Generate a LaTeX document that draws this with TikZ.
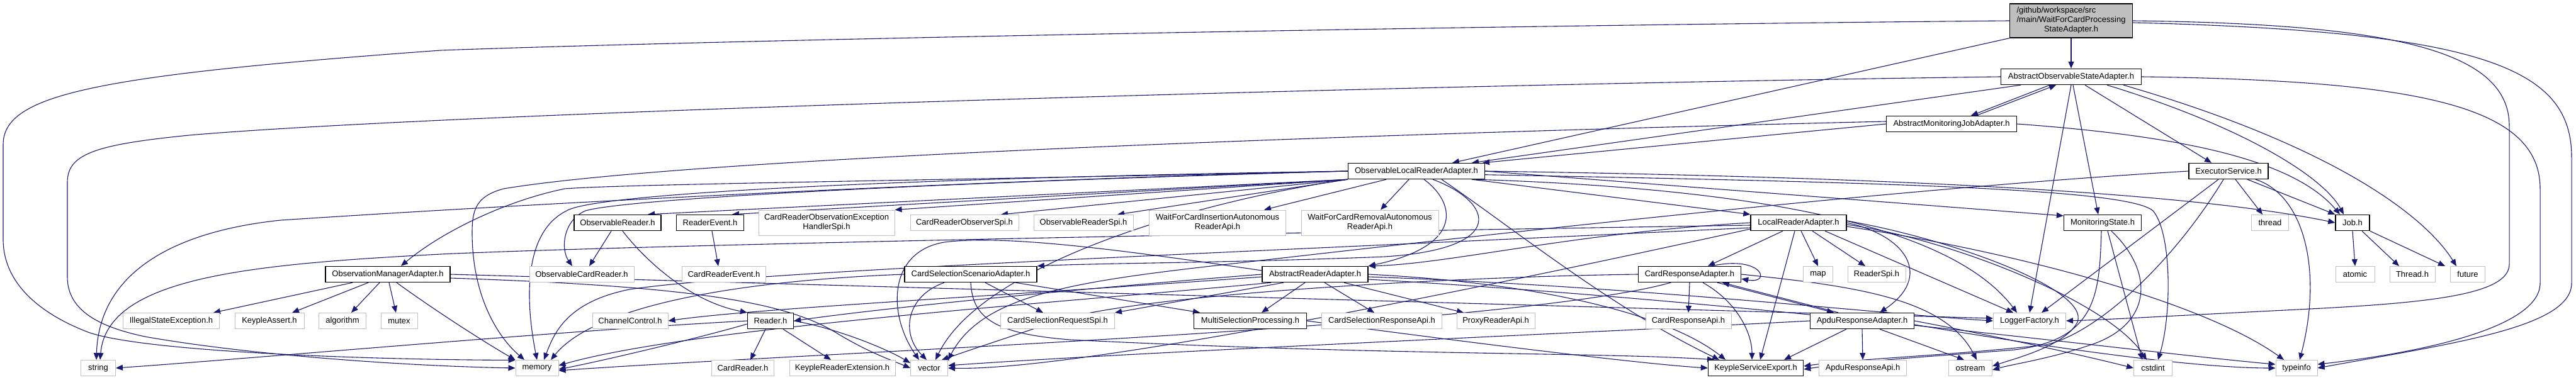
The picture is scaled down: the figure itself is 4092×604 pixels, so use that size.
\documentclass[tikz,border=0pt]{standalone}
\usepackage{fontspec}
\setmainfont{Liberation Sans}
\usetikzlibrary{arrows.meta}
\definecolor{edgec}{HTML}{191970}
\definecolor{gbord}{HTML}{BFBFBF}
\definecolor{tfill}{HTML}{BFBFBF}
\newcommand{\nf}{\fontsize{13}{15}\selectfont}
\pgfdeclarelayer{bg}
\pgfsetlayers{bg,main}
\tikzset{
  gx/.style={draw=gbord, line width=1pt, fill=white, minimum height=25pt, inner xsep=2pt, inner ysep=1pt, font=\nf},
  bx/.style={gx, draw=black, line width=1.4pt},
  tw/.style={minimum height=40pt, align=center},
  e/.style={draw=edgec, line width=1.1pt, -{Triangle[length=11pt,width=9pt]}},
}
\begin{document}
\begin{tikzpicture}[x=1pt,y=-1pt]
\useasboundingbox (0,0) rectangle (4092,604);
% ---------- nodes ----------
\node[bx, fill=tfill, minimum width=195pt, minimum height=54pt] (t) at (3290,33)
  {\begin{tabular}{@{}l@{}}/github/workspace/src\\/main/WaitForCardProcessing\\\multicolumn{1}{@{}c@{}}{StateAdapter.h}\end{tabular}};
\node[bx, minimum width=223pt] (aosa) at (3290,122) {AbstractObservableStateAdapter.h};
\node[bx, minimum width=207pt] (amja) at (3100,197) {AbstractMonitoringJobAdapter.h};
\node[bx, minimum width=217pt] (olra) at (2250,272) {ObservableLocalReaderAdapter.h};
\node[bx, minimum width=126pt] (es) at (3540,272) {ExecutorService.h};
% row 4
\node[bx, minimum width=138pt] (obsr) at (981,354) {ObservableReader.h};
\node[bx, minimum width=107pt] (revt) at (1128,354) {ReaderEvent.h};
\node[gx, tw, minimum width=216pt] (croe) at (1313,354) {CardReaderObservationException\\HandlerSpi.h};
\node[gx, minimum width=172pt] (cros) at (1532,354) {CardReaderObserverSpi.h};
\node[gx, minimum width=158pt] (orspi) at (1721,354) {ObservableReaderSpi.h};
\node[gx, tw, minimum width=217pt] (wfci) at (1934,354) {WaitForCardInsertionAutonomous\\ReaderApi.h};
\node[gx, tw, minimum width=218pt] (wfcr) at (2176,354) {WaitForCardRemovalAutonomous\\ReaderApi.h};
\node[bx, minimum width=152pt] (lra) at (2857,354) {LocalReaderAdapter.h};
\node[bx, minimum width=123pt] (ms) at (3340,354) {MonitoringState.h};
\node[gx, minimum width=59pt] (thread) at (3606,354) {thread};
\node[bx, minimum width=54pt] (job) at (3737,354) {Job.h};
% row 5
\node[bx, minimum width=198pt] (oma) at (616,436) {ObservationManagerAdapter.h};
\node[gx, minimum width=166pt] (ocr) at (924,436) {ObservableCardReader.h};
\node[gx, minimum width=133pt] (cre) at (1150,436) {CardReaderEvent.h};
\node[bx, minimum width=210pt] (cssa) at (1542,436) {CardSelectionScenarioAdapter.h};
\node[bx, minimum width=168pt] (ara) at (2089,436) {AbstractReaderAdapter.h};
\node[bx, minimum width=163pt] (cra) at (2684,436) {CardResponseAdapter.h};
\node[gx, minimum width=47pt] (map) at (2888,436) {map};
\node[gx, minimum width=92pt] (rspi) at (2981,436) {ReaderSpi.h};
\node[gx, minimum width=62pt] (atomic) at (3741,436) {atomic};
\node[gx, minimum width=72pt] (threadh) at (3832,436) {Thread.h};
\node[gx, minimum width=55pt] (future) at (3920,436) {future};
% row 6
\node[gx, minimum width=153pt] (ise) at (272,510) {IllegalStateException.h};
\node[gx, minimum width=110pt] (ka) at (428,510) {KeypleAssert.h};
\node[gx, minimum width=75pt] (algo) at (544,510) {algorithm};
\node[gx, minimum width=58pt] (mutex) at (634,510) {mutex};
\node[gx, minimum width=120pt] (cc) at (1001,510) {ChannelControl.h};
\node[bx, minimum width=73pt] (reader) at (1224,510) {Reader.h};
\node[gx, minimum width=181pt] (csrs) at (1680,510) {CardSelectionRequestSpi.h};
\node[bx, minimum width=179pt] (msp) at (1986,510) {MultiSelectionProcessing.h};
\node[gx, minimum width=191pt] (csra) at (2195,510) {CardSelectionResponseApi.h};
\node[gx, minimum width=124pt] (pra) at (2376,510) {ProxyReaderApi.h};
\node[gx, minimum width=136pt] (crapi) at (2682,510) {CardResponseApi.h};
\node[bx, minimum width=165pt] (apra) at (2958,510) {ApduResponseAdapter.h};
\node[gx, minimum width=115pt] (lf) at (3224,510) {LoggerFactory.h};
% row 7
\node[gx, minimum width=55pt] (string) at (156,585) {string};
\node[gx, minimum width=68pt] (memory) at (853,585) {memory};
\node[gx, minimum width=99pt] (cardr) at (1180,585) {CardReader.h};
\node[gx, minimum width=168pt] (kre) at (1338,585) {KeypleReaderExtension.h};
\node[gx, minimum width=59pt] (vector) at (1476,585) {vector};
\node[bx, minimum width=151pt] (kse) at (2789,585) {KeypleServiceExport.h};
\node[gx, minimum width=139pt] (apapi) at (2959,585) {ApduResponseApi.h};
\node[gx, minimum width=69pt] (ostream) at (3130,585) {ostream};
\node[gx, minimum width=61pt] (cstdint) at (3420,585) {cstdint};
\node[gx, minimum width=66pt] (typeinfo) at (3648,585) {typeinfo};
% ---------- edges ----------
\begin{pgfonlayer}{bg}
% top file
\draw[e] (t) -- (aosa);
\draw[e] (t.south west) -- ([xshift=57pt]olra.north);
\draw[e] (t.west) .. controls (2400,40) and (1200,62) .. (700,80) .. controls (150,120) and (5,150) .. (5,230) -- (5,380) .. controls (5,460) and (80,505) .. (140,528) .. controls (230,560) and (600,572) .. (memory.160);
\draw[e] (t.east) .. controls (3800,38) and (3986,80) .. (3986,200) -- (3986,420) .. controls (3986,470) and (3850,482) .. (3650,492) .. controls (3450,502) and (3350,508) .. (lf.east);
\draw[e] ([yshift=-3pt]t.east) .. controls (3950,50) and (4085,110) .. (4085,250) -- (4085,450) .. controls (4085,520) and (3900,545) .. (typeinfo.east);
% AbstractObservableStateAdapter
\draw[e] (aosa.west) .. controls (2200,135) and (700,180) .. (300,215) .. controls (150,230) and (107,245) .. (107,290) -- (107,440) .. controls (107,495) and (160,520) .. (230,535) .. controls (400,565) and (650,582) .. (memory.west);
\draw[e] (aosa.east) .. controls (3850,128) and (4035,170) .. (4035,300) -- (4035,450) .. controls (4035,520) and (3850,560) .. (typeinfo.10);
\draw[e] ([xshift=-34pt]aosa.south) -- ([xshift=31pt]amja.north);
\draw[e] ([xshift=39pt]amja.north) -- ([xshift=-24pt]aosa.south);
\draw[e] ([xshift=-80pt]aosa.south) -- ([xshift=88pt]olra.north);
\draw[e] ([xshift=22pt]aosa.south) -- ([xshift=-27pt]es.north);
\draw[e] ([xshift=3pt]aosa.south) -- ([xshift=-7pt]ms.north);
\draw[e] (aosa.south) -- (lf.north);
\draw[e] ([xshift=57pt]aosa.south) .. controls (3560,200) and (3690,280) .. ([xshift=-14pt]job.north);
\draw[e] ([xshift=83pt]aosa.south) .. controls (3700,230) and (3850,340) .. ([xshift=-18pt]future.north);
% AbstractMonitoringJobAdapter
\draw[e] (amja.west) -- ([xshift=105pt]olra.north);
\draw[e] ([yshift=4pt]amja.west) .. controls (2200,212) and (1100,250) .. (800,300) .. controls (755,312) and (750,335) .. (750,370) .. controls (750,470) and (790,535) .. ([xshift=-20pt]memory.north);
\draw[e] (amja.east) .. controls (3450,215) and (3640,250) .. ([xshift=-20pt]job.north);
% ObservableLocalReaderAdapter
\draw[e] (olra.south west) -- ([xshift=48pt]obsr.north);
\draw[e] (olra.south west) -- ([xshift=35pt]revt.north);
\draw[e] (olra.south west) -- (croe.north east);
\draw[e] (olra.south west) -- ([xshift=58pt]cros.north);
\draw[e] (olra.south west) -- ([xshift=54pt]orspi.north);
\draw[e] ([xshift=-48pt]olra.south) -- ([xshift=74pt]wfci.north);
\draw[e] ([xshift=-12pt]olra.south) -- ([xshift=17pt]wfcr.north);
\draw[e] ([xshift=12pt]olra.south) .. controls (2310,320) and (2330,390) .. (ara.north east);
\draw[e] ([xshift=26pt]olra.south) .. controls (2370,320) and (2400,395) .. (2200,408) .. controls (1950,418) and (1750,418) .. (cssa.north east);
\draw[e] ([xshift=88pt]olra.south) -- (lra.north west);
\draw[e] (olra.east) -- (ms.170);
\draw[e] (olra.east) .. controls (2900,280) and (3450,300) .. (job.west);
\draw[e] (olra.-8) .. controls (2800,300) and (3100,360) .. ([xshift=-20pt]lf.north);
\draw[e] (olra.-3) .. controls (3000,290) and (3380,300) .. (3420,335) .. controls (3450,370) and (3450,500) .. ([xshift=8pt]cstdint.north);
\draw[e] ([xshift=40pt]olra.south) .. controls (2400,360) and (2560,490) .. ([xshift=-58pt]kse.north);
\draw[e] (olra.west) .. controls (1600,285) and (1000,292) .. (897,300) .. controls (800,320) and (700,370) .. ([xshift=21pt]oma.north);
\draw[e] (olra.west) .. controls (1500,282) and (950,305) .. (900,335) .. controls (830,370) and (835,480) .. (memory.north);
\draw[e] (olra.west) .. controls (1500,290) and (1000,315) .. (930,335) .. controls (895,350) and (890,395) .. ([xshift=-15pt]ocr.north);
\draw[e] (olra.west) .. controls (1600,285) and (900,320) .. (446,350) .. controls (300,365) and (158,420) .. ([xshift=-3pt]string.north);
\draw[e] (olra.south west) .. controls (1900,320) and (1560,420) .. ([xshift=10pt]vector.north);
% ExecutorService
\draw[e] ([xshift=30pt]es.south) -- (job.north west);
\draw[e] ([xshift=11pt]es.south) -- ([xshift=-12pt]thread.north);
\draw[e] ([xshift=-16pt]es.south) -- ([xshift=19pt]lf.north);
\draw[e] ([xshift=43pt]es.south) .. controls (3660,310) and (3690,430) .. ([xshift=5pt]typeinfo.north);
\draw[e] ([xshift=-8pt]es.south) .. controls (3450,420) and (3330,530) .. (3250,548) .. controls (3100,565) and (2950,570) .. ([yshift=3pt]kse.east);
\draw[e] (es.west) .. controls (3000,300) and (2300,380) .. (1950,420) .. controls (1700,448) and (1560,470) .. (vector.north east);
% LocalReaderAdapter
\draw[e] ([xshift=-25pt]lra.south) -- ([xshift=29pt]cra.north);
\draw[e] ([xshift=4pt]lra.south) -- (map.north);
\draw[e] ([xshift=22pt]lra.south) -- ([xshift=-18pt]rspi.north);
\draw[e] ([xshift=-6pt]lra.south) -- ([xshift=7pt]kse.north);
\draw[e] (lra.east) .. controls (3030,375) and (3070,440) .. ([xshift=28pt]apra.north);
\draw[e] ([xshift=42pt]lra.south) -- ([xshift=-26pt]lf.north);
\draw[e] ([yshift=-3pt]lra.east) .. controls (3100,380) and (3350,480) .. ([xshift=-10pt]cstdint.north);
\draw[e] ([yshift=-6pt]lra.east) .. controls (3200,400) and (3500,480) .. ([xshift=-20pt]typeinfo.north);
\draw[e] ([yshift=3pt]lra.east) .. controls (3100,380) and (3320,460) .. (3300,512) .. controls (3280,550) and (3200,570) .. ([yshift=3pt]ostream.east);
\draw[e] (lra.west) .. controls (2500,370) and (2300,420) .. (ara.north east);
\draw[e] ([yshift=-4pt]lra.west) .. controls (2000,370) and (1000,390) .. (700,404) .. controls (400,420) and (170,440) .. ([xshift=3pt]string.north);
\draw[e] ([yshift=-8pt]lra.west) .. controls (2000,400) and (1200,430) .. (1000,460) .. controls (900,480) and (880,530) .. ([xshift=11pt]memory.north);
\draw[e] ([yshift=-10pt]lra.west) .. controls (2300,470) and (1700,590) .. (vector.east);
% CardResponseAdapter
\draw[e] ([xshift=35pt]cra.north) .. controls (2800,405) and (2815,452) .. (cra.-5);
\draw[e] (cra.south) -- (crapi.north);
\draw[e] ([xshift=44pt]cra.south) -- ([xshift=-45pt]apra.north);
\draw[e] ([xshift=-38pt]apra.north) -- ([xshift=52pt]cra.south);
\draw[e] ([xshift=21pt]cra.south) .. controls (2760,480) and (2783,530) .. ([xshift=-6pt]kse.north);
\draw[e] (cra.east) .. controls (2950,455) and (3090,475) .. ([xshift=10pt]ostream.north);
\draw[e] (cra.west) .. controls (2300,440) and (1750,470) .. (1650,520) .. controls (1560,550) and (1530,560) .. ([xshift=20pt]vector.north);
\draw[e] ([xshift=-30pt]cra.south) .. controls (2400,520) and (1300,560) .. ([yshift=-4pt]memory.east);
% ApduResponseAdapter
\draw[e] ([xshift=-25pt]apra.south) -- ([xshift=45pt]kse.north);
\draw[e] (apra.south) -- (apapi.north);
\draw[e] ([xshift=28pt]apra.south) -- ([xshift=-10pt]ostream.north);
\draw[e] (apra.west) .. controls (2500,530) and (1800,560) .. ([yshift=4pt]vector.east);
\draw[e] (apra.east) .. controls (3200,540) and (3330,570) .. (cstdint.west);
\draw[e] ([yshift=-6pt]apra.east) .. controls (3300,560) and (3500,585) .. (typeinfo.west);
% MonitoringState
\draw[e] ([xshift=-2pt]ms.south) .. controls (3335,470) and (3330,540) .. (3200,556) .. controls (3050,568) and (2950,574) .. ([yshift=-2pt]kse.east);
\draw[e] ([xshift=14pt]ms.south) .. controls (3420,430) and (3420,510) .. (3330,545) .. controls (3260,570) and (3200,578) .. ([yshift=-3pt]ostream.east);
\draw[e] ([xshift=8pt]ms.south) -- ([xshift=-17pt]cstdint.north);
% Job
\draw[e] (job.south) -- (atomic.north);
\draw[e] ([xshift=15pt]job.south) -- ([xshift=-21pt]threadh.north);
\draw[e] (job.south east) -- ([xshift=-36pt]future.north);
% AbstractReaderAdapter
\draw[e] ([xshift=-16pt]ara.south) -- ([xshift=18pt]msp.north);
\draw[e] ([xshift=15pt]ara.south) -- ([xshift=-12pt]csra.north);
\draw[e] ([xshift=46pt]ara.south) -- ([xshift=-51pt]pra.north);
\draw[e] (ara.west) .. controls (1700,460) and (1400,490) .. (reader.east);
\draw[e] ([xshift=-50pt]ara.south) -- (csrs.north east);
\draw[e] ([yshift=-4pt]ara.west) .. controls (1600,470) and (1200,490) .. (cc.east);
\draw[e] ([yshift=6pt]ara.west) .. controls (1800,400) and (1600,372) .. (1500,385) .. controls (1410,400) and (1410,500) .. ([xshift=-16pt]vector.north);
\draw[e] ([xshift=-70pt]ara.south) .. controls (1700,480) and (1100,520) .. ([yshift=4pt]memory.east);
\draw[e] (ara.east) .. controls (2450,450) and (2650,500) .. ([xshift=-48pt]kse.north);
\draw[e] ([yshift=-4pt]ara.east) .. controls (2600,455) and (3000,500) .. (lf.west);
\draw[e] ([yshift=-8pt]ara.east) .. controls (2800,480) and (3400,560) .. (typeinfo.170);
% CardSelectionScenarioAdapter
\draw[e] ([xshift=23pt]cssa.south) -- ([xshift=-23pt]csrs.north);
\draw[e] ([xshift=71pt]cssa.south) -- ([xshift=-80pt]msp.north);
\draw[e] ([xshift=-42pt]cssa.south) .. controls (1440,470) and (1430,530) .. ([xshift=-4pt]vector.north);
\draw[e] (cssa.south) .. controls (1545,500) and (1570,530) .. (1700,540) .. controls (2200,565) and (2550,560) .. ([xshift=-66pt]kse.north);
\draw[e] (cssa.west) .. controls (1200,445) and (950,480) .. ([xshift=22pt]memory.north);
% MultiSelectionProcessing
\draw[e] (msp.east) .. controls (2300,540) and (2600,578) .. (kse.west);
% Reader
\draw[e] ([xshift=-8pt]reader.south) -- ([xshift=12pt]cardr.north);
\draw[e] ([xshift=20pt]reader.south) -- ([xshift=-18pt]kre.north);
\draw[e] (reader.west) .. controls (900,525) and (400,570) .. (string.east);
\draw[e] ([yshift=-5pt]reader.west) .. controls (1100,540) and (950,575) .. ([yshift=-2pt]memory.east);
\draw[e] (reader.east) .. controls (1320,520) and (1400,550) .. (vector.165);
% ObservableReader, ReaderEvent
\draw[e] ([xshift=-10pt]obsr.south) -- ([xshift=12pt]ocr.north);
\draw[e] ([xshift=8pt]obsr.south) .. controls (1030,420) and (1100,480) .. (reader.north west);
\draw[e] ([xshift=3pt]revt.south) -- ([xshift=-9pt]cre.north);
% ObservationManagerAdapter
\draw[e] ([xshift=-56pt]oma.south) -- ([xshift=67pt]ise.north);
\draw[e] ([xshift=-31pt]oma.south) -- ([xshift=36pt]ka.north);
\draw[e] ([xshift=-13pt]oma.south) -- ([xshift=14pt]algo.north);
\draw[e] ([xshift=2pt]oma.south) -- ([xshift=-5pt]mutex.north);
\draw[e] ([xshift=14pt]oma.south) .. controls (700,500) and (780,550) .. (memory.north west);
\draw[e] (oma.east) -- ([yshift=4pt]lf.west);
\draw[e] ([yshift=-6pt]oma.east) .. controls (1100,455) and (1250,480) .. (1330,530) .. controls (1380,560) and (1410,570) .. (vector.west);
\end{pgfonlayer}
\end{tikzpicture}
\end{document}
